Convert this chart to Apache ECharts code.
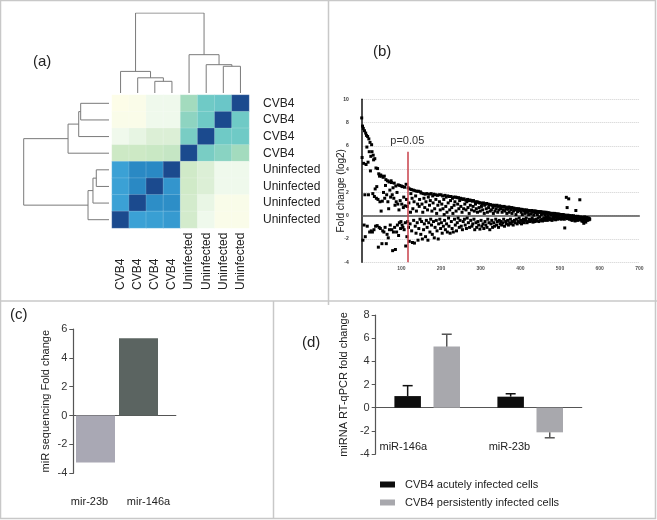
<!DOCTYPE html>
<html><head><meta charset="utf-8">
<script src="https://cdn.jsdelivr.net/npm/echarts@6/dist/echarts.min.js"></script>
<style>html,body{margin:0;padding:0;background:#fff}#c{width:657px;height:520px}</style>
</head><body><div id="c"></div>
<script>
// ---------- Panel (a): clustered heatmap ----------
const heatCols = ['CVB4','CVB4','CVB4','CVB4','Uninfected','Uninfected','Uninfected','Uninfected'];
const heatRows = ['CVB4','CVB4','CVB4','CVB4','Uninfected','Uninfected','Uninfected','Uninfected'];
const heatValues = [
  [0,   0.2, 1,   1,   4,   5,   5.1, 8],
  [0.2, 0.2, 1,   1,   4.4, 5,   8,   5],
  [0.9, 1.4, 2,   2,   4.8, 8,   5,   5],
  [3,   3,   3.1, 3.2, 8,   4.8, 4.5, 4],
  [6,   7,   7,   8,   2.8, 2,   1,   1],
  [6,   7,   8,   6.5, 2.8, 2,   1,   1],
  [6,   8,   6.8, 6.8, 2.6, 1.3, 0.3, 0.3],
  [8,   6,   6.1, 6.3, 2.6, 1,   0.2, 0.2]
];
// dendrogram merges: [childA, childB, height]; number = leaf index, '#k' = k-th merge
const colMerges = [[2,3,0.146],[1,'#0',0.19],[0,'#1',0.27],[6,7,0.334],[5,'#3',0.354],[4,'#4',0.479],['#2','#5',1.0]];
const rowMerges = [[0,1,0.332],[2,'#0',0.355],[3,'#1',0.48],[4,5,0.149],[6,'#3',0.188],[7,'#4',0.246],['#2','#5',1.0]];

// ---------- Panel (b): fold change by rank ----------
const foldChange = [
 8.4,5.0,7.7,-2.1,7.5,4.5,-0.8,7.3,1.8,-1.8,7.1,4.4,6.9,5.9,-0.9,6.8,4.6,1.8,6.6,5.5,-1.4,6.3,3.85,5.1,-1.3,
 6.1,5.5,-1.4,1.9,5.2,4.8,-1.2,1.65,4.9,2.3,-0.9,4.1,1.5,2.5,-0.85,4.05,1.4,-2.7,3.6,-1.0,3.4,1.2,-1.1,3.5,0.4,
 3.4,-2.4,1.25,-1.3,3.3,2.0,-1.4,3.4,1.5,-1.0,2.6,3.1,-2.4,1.8,-1.6,3.0,1.2,-1.9,0.6,2.9,-1.2,2.2,-0.8,1.6,3.0,
 2.85,-1.2,1.8,-3.0,2.4,-1.4,1.5,2.8,-1.0,0.9,-2.9,2.55,1.2,-1.4,2.0,-0.8,1.0,2.65,-1.7,0.5,-0.6,2.6,1.3,-1.1,-0.5,
 2.55,1.0,-0.8,2.5,-1.0,0.7,1.6,-1.2,2.45,0.85,-0.6,-2.6,2.7,1.4,-1.8,0.8,-0.5,2.4,-1.0,1.1,-2.2,2.3,-0.7,0.3,1.9,
 2.25,-1.3,1.5,-2.3,0.6,2.2,-0.4,1.2,-2.35,2.15,-0.9,1.7,-1.5,0.4,2.1,-0.6,1.0,-2.1,2.1,-1.1,0.8,1.4,-0.3,2.05,-1.6,
 1.95,-0.5,1.0,-2.0,0.3,1.9,-1.2,1.5,-0.7,0.7,1.85,-1.8,1.2,-0.4,1.9,-1.0,0.5,-2.1,1.6,-0.6,1.85,0.9,-1.4,1.3,-0.3,
 1.9,-0.8,0.4,-1.6,1.7,1.1,-0.5,1.85,-1.9,0.6,-1.0,1.8,1.4,-0.4,0.2,-1.3,1.75,0.9,-2.0,-0.7,1.8,1.2,-0.3,0.5,-1.1,
 1.8,-0.6,1.0,-1.5,1.7,0.6,-0.9,1.4,0.1,-0.4,1.75,-1.2,0.8,1.6,-0.7,0.3,-1.4,1.7,1.1,-0.2,-0.9,1.65,0.5,-1.5,1.3,
 1.65,-0.5,0.7,-1.1,1.5,0.2,-1.4,1.6,0.9,-0.3,1.2,-0.8,1.6,0.4,-1.3,1.55,-0.6,1.0,-0.2,1.55,0.6,-1.0,1.3,-0.4,1.5,
 0.8,-0.9,1.45,0.3,-1.2,1.4,-0.5,0.6,1.45,-0.3,1.0,-0.8,1.35,0.5,-1.1,1.2,-0.2,1.4,0.7,-0.6,1.3,0.2,-1.0,1.35,0.9,
 -0.4,1.3,0.5,-0.9,1.25,-0.7,0.8,1.3,-0.3,0.4,-1.2,1.2,1.0,-0.6,0.6,-1.0,1.2,0.3,-0.5,1.15,-0.8,0.7,1.1,-1.15,0.4,
 1.1,-0.4,0.8,-0.9,1.05,0.5,-0.7,1.1,-1.1,0.2,0.9,-0.5,1.0,-0.8,0.6,1.05,-1.0,0.3,-0.3,1.0,0.7,-0.6,0.95,-1.2,0.4,
 0.95,-0.7,0.5,-0.4,0.9,-1.0,0.7,0.2,-0.6,0.9,-0.9,0.4,0.85,-0.3,0.6,-0.8,0.9,-0.5,0.3,0.8,-1.0,0.5,-0.4,0.85,-0.7,
 0.6,-0.5,0.8,-0.8,0.3,0.75,-0.6,0.5,-0.3,0.8,-0.9,0.4,0.75,-0.5,0.6,-0.7,0.2,0.7,-0.4,0.55,-0.8,0.75,0.3,-0.6,0.7,
 -0.3,0.5,-0.7,0.7,0.2,-0.5,0.65,-0.8,0.4,0.65,-0.4,0.5,-0.6,0.6,0.1,-0.3,0.6,-0.7,0.35,0.55,-0.5,0.6,-0.2,0.45,-0.6,
 0.55,-0.4,0.3,-0.7,0.55,0.1,-0.5,0.5,-0.3,0.4,-0.6,0.5,0.2,-0.4,0.45,-0.2,0.5,-0.6,0.3,0.45,-0.5,0.1,0.45,-0.3,0.4,
 -0.5,0.4,0.15,-0.4,0.45,-0.2,0.3,-0.55,0.4,0.05,-0.35,0.4,-0.5,0.25,0.4,-0.3,0.35,-0.45,0.1,0.35,-0.2,0.3,-0.5,0.35,-0.1,
 0.3,-0.4,0.35,0.1,-0.3,0.3,-0.45,0.2,0.3,-0.2,0.3,-0.4,0.05,0.25,-0.3,0.3,-0.1,0.2,-0.4,0.25,0.0,-0.3,0.25,-0.2,0.2,
 -0.35,0.2,0.05,-0.25,0.2,-0.4,0.15,0.2,-0.15,0.1,-0.3,0.2,-0.1,0.15,-0.35,0.15,0.0,-0.2,0.15,-0.3,0.1,-0.05,0.15,-0.25,0.1,
 -0.2,0.1,0.05,-0.3,0.1,-0.1,0.05,-0.25,0.1,-0.15,0.05,-0.3,-1.05,0.05,-0.2,0.0,1.58,-0.1,0.7,-0.25,0.05,-0.15,1.45,0.0,-0.3,
 0.0,-0.2,-0.05,-0.35,0.0,-0.15,-0.4,-0.05,-0.25,0.0,-0.3,-0.1,-0.2,-0.45,-0.05,0.45,-0.3,-0.1,-0.2,-0.4,-0.05,-0.25,-0.1,-0.35,-0.15,
 1.37,-0.2,-0.35,-0.1,-0.3,-0.45,-0.15,-0.25,-0.5,-0.2,-0.65,-0.3,-0.1,-0.4,-0.25,-0.55,-0.2,-0.35,-0.15,-0.4,-0.25,-0.3,-0.2,-0.35,-0.25,-0.3
];
const pThresholdRank = 115;
const pLineTop = 5.5;
const pLabel = 'p=0.05';

// ---------- Panel (c): sequencing fold change ----------
const cCategories = ['mir-23b','mir-146a'];
const cValues = [-3.25, 5.36];

// ---------- Panel (d): RT-qPCR ----------
const dCategories = ['miR-146a','miR-23b'];
const dAcute = [1.0, 0.95];
const dAcuteErr = [0.9, 0.25];
const dPersist = [5.27, -2.13];
const dPersistErr = [1.07, 0.47];
const dSeriesNames = ['CVB4 acutely infected cells','CVB4 persistently infected cells'];

// ================= build =================
const FONT = 'Liberation Sans, Arial, sans-serif';
const heatPalette = ['#fdfde8','#eff9ec','#dcefd6','#cde9c5','#a3dbbe','#6fcac6','#3ba1d5','#2a89c4','#1b4a8e'];

function dendroPaths(merges){
  const nodes=[]; const paths=[];
  const get = k => typeof k==='number' ? {pos:k+0.5,h:0} : nodes[+k.slice(1)];
  merges.forEach(([a,b,h])=>{
    const A=get(a), B=get(b);
    paths.push([[A.pos,A.h],[A.pos,h],[B.pos,h],[B.pos,B.h]]);
    nodes.push({pos:(A.pos+B.pos)/2,h:h});
  });
  return paths;
}
const heatData=[];
heatValues.forEach((row,r)=>row.forEach((v,c)=>heatData.push([c,r,v])));

const hidden = {show:false};
const grids = [
  {left:112, top:95, width:137, height:133},      // 0 heatmap
  {left:112, top:13, width:137, height:80},       // 1 column dendrogram
  {left:23.7, top:95, width:85.3, height:133},    // 2 row dendrogram
  {left:361.7, top:99.3, width:277.6, height:163},// 3 scatter
  {left:73.3, top:329, width:102.5, height:144.3},// 4 (c) axes
  {left:74, top:329, width:86, height:144.3},     // 5 (c) bars
  {left:60, top:329, width:118, height:144.3},    // 6 (c) labels
  {left:375.7, top:315, width:206, height:139},   // 7 (d) main
  {left:375.7, top:315, width:206, height:139}    // 8 (d) labels
];
const txt = {fontFamily:FONT};
const xAxes = [
  {gridIndex:0, type:'category', data:heatCols, axisLine:hidden, axisTick:hidden, splitLine:hidden,
   axisLabel:{rotate:90, align:'left', margin:62, fontSize:12, color:'#222', fontFamily:FONT, interval:0}},
  {gridIndex:1, type:'value', min:0, max:8, show:false},
  {gridIndex:2, type:'value', min:0, max:1, inverse:true, show:false},
  {gridIndex:3, type:'value', min:0, max:700, interval:100,
   axisLine:{onZero:true, lineStyle:{color:'#555', width:1.5}}, axisTick:hidden, splitLine:hidden,
   axisLabel:{fontSize:5, fontWeight:'bold', color:'#555', margin:4, showMinLabel:false, fontFamily:FONT}},
  {gridIndex:4, type:'category', data:cCategories, axisLine:{onZero:true, lineStyle:{color:'#555', width:1.2}},
   axisTick:hidden, axisLabel:hidden},
  {gridIndex:5, type:'category', data:cCategories, show:false},
  {gridIndex:6, type:'category', data:cCategories, position:'bottom', axisLine:hidden, axisTick:hidden,
   axisLabel:{fontSize:11, color:'#222', margin:23, fontFamily:FONT}},
  {gridIndex:7, type:'category', data:dCategories, axisLine:{onZero:true, lineStyle:{color:'#555', width:1.2}},
   axisTick:hidden, axisLabel:hidden},
  {gridIndex:8, type:'category', data:dCategories, position:'bottom', axisLine:hidden, axisTick:hidden,
   axisLabel:{inside:true, align:'right', fontSize:11, color:'#222', margin:2, fontFamily:FONT}}
];
const yAxes = [
  {gridIndex:0, type:'category', data:heatRows, inverse:true, position:'right', axisLine:hidden, axisTick:hidden,
   splitLine:hidden, axisLabel:{fontSize:12, color:'#222', margin:14, fontFamily:FONT, interval:0}},
  {gridIndex:1, type:'value', min:0, max:1, show:false},
  {gridIndex:2, type:'value', min:0, max:8, inverse:true, show:false},
  {gridIndex:3, type:'value', min:-4, max:10, interval:2,
   axisLine:{show:true, onZero:false, lineStyle:{color:'#111', width:1.5}}, axisTick:hidden,
   axisLabel:{fontSize:5, fontWeight:'bold', color:'#333', margin:13, fontFamily:FONT},
   splitLine:{show:true, lineStyle:{color:'#cfcfcf', type:'dotted', width:1}},
   name:'Fold change (log2)', nameLocation:'middle', nameGap:15, nameMoveOverlap:false,
   nameTextStyle:{fontSize:10, color:'#222', fontFamily:FONT, padding:[0,20,0,0]}},
  {gridIndex:4, type:'value', min:-4, max:6, interval:2,
   axisLine:{show:true, lineStyle:{color:'#555', width:1.2}}, axisTick:{show:true, length:4, lineStyle:{color:'#555'}},
   axisLabel:{fontSize:11, color:'#333', margin:6, fontFamily:FONT}, splitLine:hidden,
   name:'miR sequencing Fold change', nameLocation:'middle', nameGap:22, nameTextStyle:{fontSize:11, color:'#222', fontFamily:FONT}},
  {gridIndex:5, type:'value', min:-4, max:6, show:false},
  {gridIndex:6, type:'value', min:-4, max:6, show:false},
  {gridIndex:7, type:'value', min:-4, max:8, interval:2,
   axisLine:{show:true, lineStyle:{color:'#555', width:1.2}}, axisTick:{show:true, length:4, lineStyle:{color:'#555'}},
   axisLabel:{fontSize:11, color:'#333', margin:6, fontFamily:FONT}, splitLine:hidden,
   name:'miRNA RT-qPCR fold change', nameLocation:'middle', nameGap:26, nameTextStyle:{fontSize:11, color:'#222', fontFamily:FONT}},
  {gridIndex:8, type:'value', min:-4, max:8, show:false}
];

const series = [];
series.push({type:'heatmap', xAxisIndex:0, yAxisIndex:0, data:heatData, silent:true,
  itemStyle:{borderColor:'rgba(255,255,255,0.35)', borderWidth:0.5}});
const dendroLine = {color:'#7a7a7a', width:1};
dendroPaths(colMerges).forEach(p=>series.push({type:'line', xAxisIndex:1, yAxisIndex:1, data:p,
  symbol:'none', silent:true, lineStyle:dendroLine, animation:false}));
dendroPaths(rowMerges).forEach(p=>series.push({type:'line', xAxisIndex:2, yAxisIndex:2, data:p.map(([pos,h])=>[h,pos]),
  symbol:'none', silent:true, lineStyle:dendroLine, animation:false}));

series.push({type:'scatter', xAxisIndex:3, yAxisIndex:3, symbol:'rect', symbolSize:3,
  itemStyle:{color:'#000', opacity:1}, data:foldChange.map((v,i)=>[i,v]), silent:true,
  markLine:{silent:true, symbol:'none', lineStyle:{color:'#c8404a', width:1.5, type:'solid'},
    label:{show:true, position:'start', formatter:pLabel, fontSize:11, color:'#333', distance:5, fontFamily:FONT},
    data:[[{coord:[pThresholdRank, pLineTop]},{coord:[pThresholdRank, -4]}]]}});

const cColors = ['#a9a8b4','#5b6461'];
series.push({type:'bar', xAxisIndex:5, yAxisIndex:5, barWidth:39, silent:true,
  data:cValues.map((v,i)=>({value:v, itemStyle:{color:cColors[i]}}))});

const dBarW = 26.5, dGapRatio = 0.475;
const dColors = ['#0d0d0d','#a8a8ad'];
const dErrColors = ['#111','#555'];
series.push({type:'bar', name:dSeriesNames[0], xAxisIndex:7, yAxisIndex:7, barWidth:dBarW, barGap:(dGapRatio*100)+'%',
  itemStyle:{color:dColors[0]}, data:dAcute, silent:true});
series.push({type:'bar', name:dSeriesNames[1], xAxisIndex:7, yAxisIndex:7, barWidth:dBarW, barGap:(dGapRatio*100)+'%',
  itemStyle:{color:dColors[1]}, data:dPersist, silent:true});
const errData = [];
dAcute.forEach((v,i)=>errData.push([i, v, dAcuteErr[i], 0]));
dPersist.forEach((v,i)=>errData.push([i, v, dPersistErr[i], 1]));
series.push({type:'custom', xAxisIndex:7, yAxisIndex:7, data:errData, silent:true, z:5,
  renderItem:function(params, api){
    const cat=api.value(0), v=api.value(1), e=api.value(2), slot=api.value(3);
    const base=api.coord([cat, v]);
    const tip=api.coord([cat, v>=0 ? v+e : v-e]);
    const off=(slot===0?-1:1)*(dBarW + dBarW*dGapRatio)/2;
    const x=base[0]+off;
    const st={stroke:dErrColors[slot], lineWidth:1.5};
    return {type:'group', children:[
      {type:'line', shape:{x1:x, y1:base[1], x2:x, y2:tip[1]}, style:st},
      {type:'line', shape:{x1:x-5, y1:tip[1], x2:x+5, y2:tip[1]}, style:st}
    ]};
  }});

const titleStyle = {fontSize:15, fontWeight:'normal', color:'#222', fontFamily:FONT};
const option = {
  animation:false,
  backgroundColor:'#fff',
  textStyle:txt,
  title:[
    {text:'(a)', left:33, top:54, padding:0, textStyle:titleStyle},
    {text:'(b)', left:373, top:44, padding:0, textStyle:titleStyle},
    {text:'(c)', left:10, top:307, padding:0, textStyle:titleStyle},
    {text:'(d)', left:302, top:335, padding:0, textStyle:titleStyle}
  ],
  grid:grids, xAxis:xAxes, yAxis:yAxes,
  visualMap:{type:'continuous', show:false, seriesIndex:0, min:0, max:8, inRange:{color:heatPalette}},
  legend:{data:dSeriesNames, orient:'vertical', left:375, top:474, itemWidth:15, itemHeight:6, itemGap:7,
    icon:'rect', selectedMode:false, textStyle:{fontSize:11, color:'#222', fontFamily:FONT, padding:[0,0,0,5]}},
  graphic:[
    {type:'rect', shape:{x:0.5, y:0.5, width:655, height:518}, style:{fill:'none', stroke:'#c8c8c8', lineWidth:1.5}, silent:true},
    {type:'line', shape:{x1:328.5, y1:0, x2:328.5, y2:305}, style:{stroke:'#c8c8c8', lineWidth:1.5}, silent:true},
    {type:'line', shape:{x1:0, y1:301, x2:657, y2:301}, style:{stroke:'#c8c8c8', lineWidth:1.5}, silent:true},
    {type:'line', shape:{x1:273.5, y1:301, x2:273.5, y2:519}, style:{stroke:'#c8c8c8', lineWidth:1.5}, silent:true}
  ],
  series:series
};
const chart = echarts.init(document.getElementById('c'), null, {renderer:'canvas'});
chart.setOption(option);
</script>
</body></html>
